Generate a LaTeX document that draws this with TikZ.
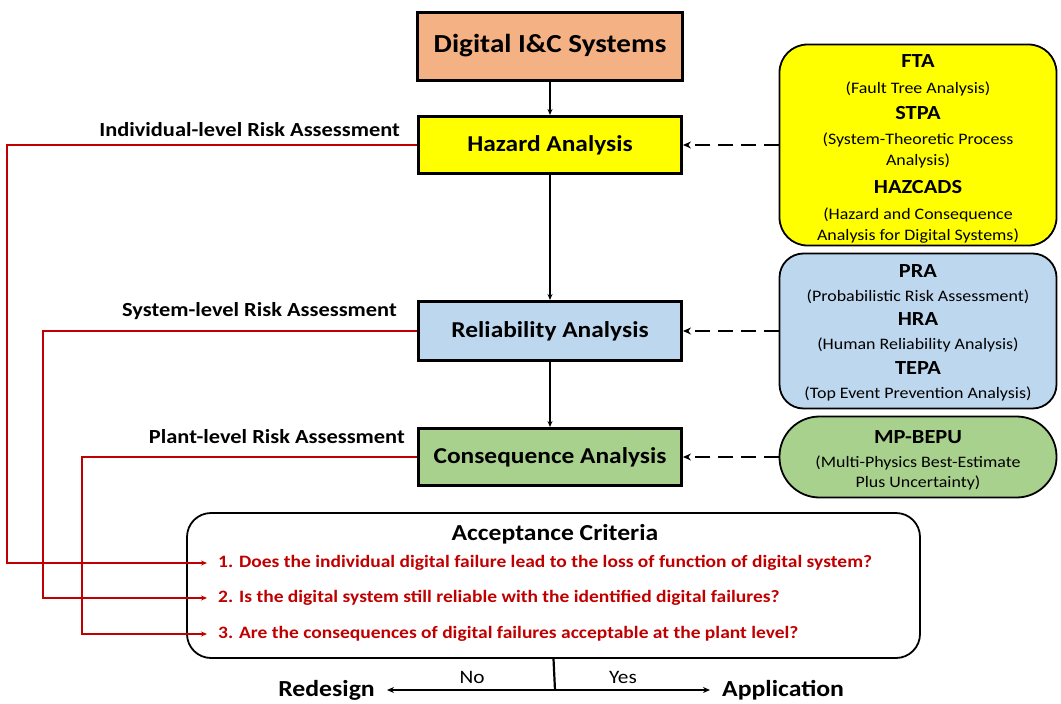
\documentclass[tikz,border=0pt]{standalone}
\usepackage{fontspec}
\setmainfont{Carlito}[FakeStretch = 1.12]
\usetikzlibrary{positioning, calc, arrows.meta}
\definecolor{peach}{HTML}{F4B183}
\definecolor{hazyellow}{HTML}{FFFF00}
\definecolor{relblue}{HTML}{BDD7EE}
\definecolor{consgreen}{HTML}{A9D18E}
\definecolor{critred}{HTML}{C00000}
\newcommand{\methtitle}[1]{{\fontsize{20}{28}\selectfont\bfseries #1}}
\tikzset{
stage/.style = {rectangle, draw, line width = 3pt, minimum width = 263pt,
   minimum height = 57pt, inner sep = 0pt, font = \fontsize{22.7}{26}\selectfont\bfseries},
method/.style = {rectangle, draw, line width = 1.8pt, minimum width = 277pt,
   inner sep = 0pt, align = center, font = \fontsize{16}{28}\selectfont},
level/.style = {anchor = east, inner sep = 0pt, font = \fontsize{20}{24}\selectfont\bfseries},
question/.style = {anchor = west, inner xsep = 11pt, inner ysep = 0pt, text = critred,
   font = \fontsize{17.4}{21}\selectfont\bfseries},
outcome/.style = {inner xsep = 12pt, inner ysep = 0pt, font = \fontsize{23}{27}\selectfont\bfseries},
flow/.style = {-{Stealth[length = 6pt, width = 5pt]}, line width = 1.3pt},
link/.style = {-{Stealth[length = 8pt, width = 7pt]}, line width = 1.8pt,
   dash pattern = on 15pt off 8pt},
feedback/.style = {-{Stealth[length = 6pt, width = 5pt]}, line width = 1.5pt, draw = critred},
decision/.style = {-{Stealth[length = 7pt, width = 6pt]}, line width = 1.3pt}
}

\begin{document}
\begin{tikzpicture}[x = 1pt, y = -1pt]
\useasboundingbox (0,0) rectangle (1061,704);

%% Main stages
\node [stage, fill = peach, minimum width = 265pt, minimum height = 68pt,
   font = \fontsize{26}{30}\selectfont\bfseries] (dic) at (550,46) {Digital I\&C Systems};
\node [stage, fill = hazyellow] (haz) at (550,145) {Hazard Analysis};
\node [stage, fill = relblue, minimum height = 59pt] (rel) at (550,331) {Reliability Analysis};
\node [stage, fill = consgreen] (cons) at (550,457) {Consequence Analysis};

\draw [flow] (dic) -- (haz);
\draw [flow] (haz) -- (rel);
\draw [flow] (rel) -- (cons);

%% Methods
\node [method, fill = hazyellow, rounded corners = 28pt, minimum height = 201pt] (fta) at (918,145)
   {\methtitle{\rule{0pt}{20pt}FTA}\\[-2pt](Fault Tree Analysis)\\[-2pt]\methtitle{STPA}\\[-3pt](System-Theoretic Process\\[-7pt]Analysis)\\[0pt]
    \methtitle{HAZCADS}\\[-2pt](Hazard and Consequence\\[-7pt]Analysis for Digital Systems)};
\node [method, fill = relblue, rounded corners = 24pt, minimum height = 155pt] (pra) at (918,331)
   {\methtitle{\rule{0pt}{17pt}PRA}\\[-4pt](Probabilistic Risk Assessment)\\[-4pt]\methtitle{HRA}\\[-4pt](Human Reliability Analysis)\\[-3pt]
    \methtitle{TEPA}\\[-4pt](Top Event Prevention Analysis)};
\node [method, fill = consgreen, rounded corners = 40pt, minimum height = 81pt] (bepu) at (918,457)
   {\methtitle{\rule{0pt}{20pt}MP-BEPU}\\[-4pt](Multi-Physics Best-Estimate\\[-8pt]Plus Uncertainty)};

\draw [link] (fta.west) -- (haz.east);
\draw [link] (pra.west) -- (rel.east);
\draw [link] (bepu.west) -- (cons.east);

%% Risk assessment levels
\node [level] (lind) at (400,130) {Individual-level Risk Assessment};
\node [level] (lsys) at (397,311) {System-level Risk Assessment};
\node [level] (lplant) at (405,437) {Plant-level Risk Assessment};

%% Acceptance criteria
\node [draw, line width = 1.8pt, rounded corners = 24pt, minimum width = 733pt,
   minimum height = 145pt] (crit) at (553.5,585.5) {};
\node [font = \fontsize{22.9}{27}\selectfont\bfseries] (crittitle) at (555,534) {Acceptance Criteria};
\node [question] (q1) at (207,563) {1. Does the individual\ digital failure lead to the loss of function of digital system?};
\node [question] (q2) at (207,598) {2. Is the digital system still reliable with the identified digital failures?};
\node [question] (q3) at (207,634) {3. Are the consequences of digital failures acceptable at the plant level?};

\draw [feedback] (haz.west) -- ++(-410,0) |- (q1.west);
\draw [feedback] (rel.west) -- ++(-374,0) |- (q2.west);
\draw [feedback] (cons.west) -- ++(-335,0) |- (q3.west);

%% Decision
\coordinate (split) at (555,690);
\node [outcome, anchor = east] (redesign) at (387,690) {Redesign};
\node [outcome, anchor = west] (app) at (710,690) {Application};
\draw [line width = 2.2pt] (crit.south) -- (split);
\draw [decision] (split) -- (redesign.east);
\draw [decision] (split) -- (app.west);
\node [font = \fontsize{19}{22}\selectfont] (no) at (472,677) {No};
\node [font = \fontsize{19}{22}\selectfont] (yes) at (623,677) {Yes};

\end{tikzpicture}
\end{document}
